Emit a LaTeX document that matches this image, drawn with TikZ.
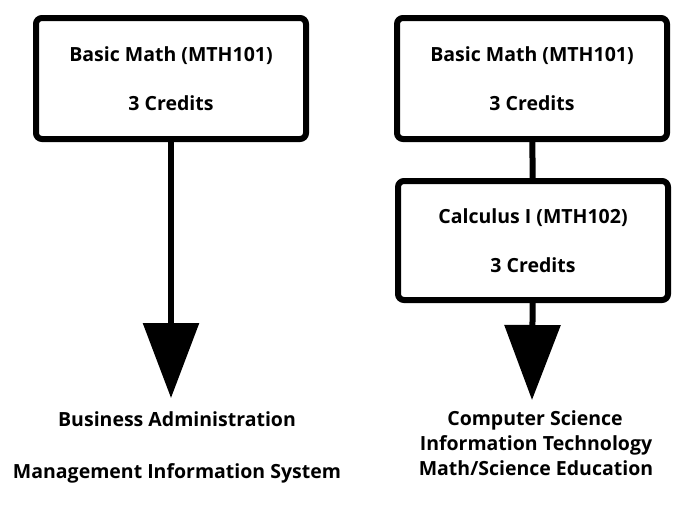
\documentclass[tikz,border=0pt]{standalone}
\usepackage{fontspec}
\setmainfont{Open Sans}
\usetikzlibrary{positioning,arrows.meta}

\tikzset{
  course/.style={draw, line width=6pt, rounded corners=6pt, minimum width=270pt,
    minimum height=121pt, align=center, inner sep=0pt,
    font=\fontsize{19.5}{49}\selectfont\bfseries},
  prereq/.style={line width=6pt},
  bigarrow/.style={line width=6pt, -{Triangle[length=75pt,width=55pt]}},
  major/.style={anchor=base, inner sep=0pt, font=\fontsize{19.5}{25}\selectfont\bfseries}
}

\begin{document}
\begin{tikzpicture}[x=1pt,y=-1pt]
	\useasboundingbox (0,0) rectangle (700,506);
	% left track
	\node[course] (L1) at (171,78.5) {Basic Math (MTH101)\\3 Credits};
	\coordinate (Ltip) at (171,398);
	\draw[bigarrow] (L1) -- (Ltip);
	\node[major] (ba) at (177,426) {Business Administration};
	\node[major] (mis) at (177,478) {Management Information System};
	% right track
	\node[course] (R1) at (532,78.5) {Basic Math (MTH101)\\3 Credits};
	\node[course, minimum height=119pt] (R2) at (533,240.5) {Calculus I (MTH102)\\3 Credits};
	\coordinate (Rtip) at (532,400);
	\draw[prereq] (R1) -- (R2);
	\draw[bigarrow] (R2) -- (Rtip);
	\node[major] (cs) at (535,425) {Computer Science};
	\node[major] (it) at (536,450) {Information Technology};
	\node[major] (mse) at (536,475) {Math/Science Education};
\end{tikzpicture}
\end{document}
